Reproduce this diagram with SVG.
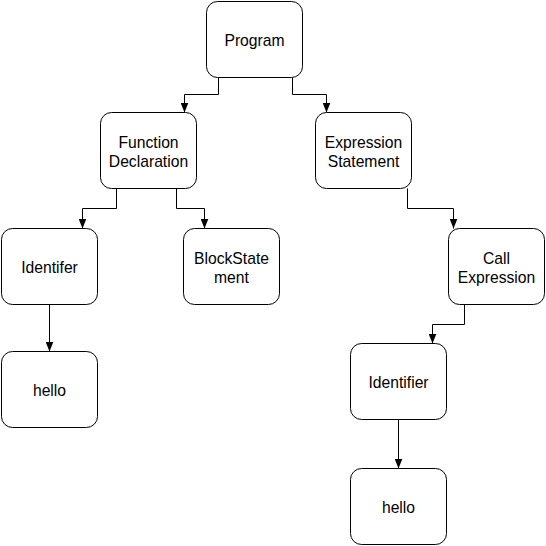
<svg xmlns="http://www.w3.org/2000/svg" width="546" height="546" viewBox="0 0 546 546">
<style>
.box{fill:#fff;stroke:#000;stroke-width:1}
.lbl{font-family:"Liberation Sans",Arial,sans-serif;font-size:15.7px;fill:#000;text-anchor:middle}
.edge{fill:none;stroke:#000;stroke-width:1;marker-end:url(#arr)}
</style>
<defs>
<marker id="arr" markerUnits="userSpaceOnUse" markerWidth="10" markerHeight="8" refX="10" refY="4" orient="auto">
<path d="M0,0 L10,4 L0,8 z" fill="#000"/>
</marker>
</defs>
<rect width="546" height="546" fill="#fff"/>
<g id="connectors">
<path class="edge" d="M218.5,77.5 V94.5 H184.5 V112.5"/>
<path class="edge" d="M292.5,77.5 V94.5 H326.5 V112.5"/>
<path class="edge" d="M116.5,188.5 V208.5 H82.5 V228.5"/>
<path class="edge" d="M176.5,188.5 V208.5 H204.5 V228.5"/>
<path class="edge" d="M407.5,188.5 V208.5 H453.5 V228.5"/>
<path class="edge" d="M464.5,304.5 V324.5 H432.5 V343.5"/>
<path class="edge" d="M49.5,304.5 V351.5"/>
<path class="edge" d="M398.5,419.5 V468.5"/>
</g>
<g id="program">
<rect class="box" x="206.5" y="1.5" width="96" height="76" rx="11"/>
<text class="lbl" x="254.5" y="46">Program</text>
</g>
<g id="function-declaration">
<rect class="box" x="100.5" y="112.5" width="96" height="76" rx="11"/>
<text class="lbl" x="148.5" y="147.5">Function</text>
<text class="lbl" x="148.5" y="166.5">Declaration</text>
</g>
<g id="expression-statement">
<rect class="box" x="315.5" y="112.5" width="96" height="76" rx="11"/>
<text class="lbl" x="363.5" y="147.5">Expression</text>
<text class="lbl" x="363.5" y="166.5">Statement</text>
</g>
<g id="identifer">
<rect class="box" x="1.5" y="228.5" width="96" height="76" rx="11"/>
<text class="lbl" x="49.5" y="273">Identifer</text>
</g>
<g id="block-statement">
<rect class="box" x="183.5" y="228.5" width="96" height="76" rx="11"/>
<text class="lbl" x="231.5" y="263.5">BlockState</text>
<text class="lbl" x="231.5" y="282.5">ment</text>
</g>
<g id="call-expression">
<rect class="box" x="448.5" y="228.5" width="96" height="76" rx="11"/>
<text class="lbl" x="496.5" y="263.5">Call</text>
<text class="lbl" x="496.5" y="282.5">Expression</text>
</g>
<g id="hello-left">
<rect class="box" x="1.5" y="351.5" width="96" height="76" rx="11"/>
<text class="lbl" x="49.5" y="396">hello</text>
</g>
<g id="identifier">
<rect class="box" x="350.5" y="343.5" width="96" height="76" rx="11"/>
<text class="lbl" x="398.5" y="388">Identifier</text>
</g>
<g id="hello-right">
<rect class="box" x="350.5" y="468.5" width="96" height="76" rx="11"/>
<text class="lbl" x="398.5" y="513">hello</text>
</g>
</svg>
